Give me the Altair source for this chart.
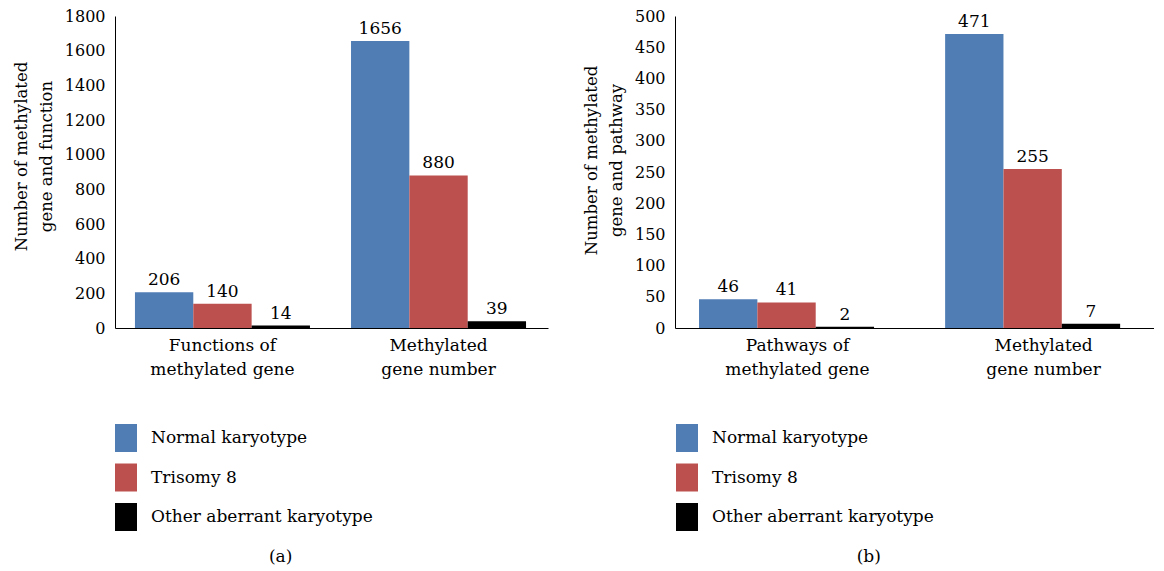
import altair as alt
import pandas as pd

FONT = "DejaVu Serif"

series = ["Normal karyotype", "Trisomy 8", "Other aberrant karyotype"]
colors = ["#4F7DB4", "#BC504E", "#000000"]

cats_a = ["Functions of\nmethylated gene", "Methylated\ngene number"]
normal_a = [206, 1656]
trisomy_a = [140, 880]
other_a = [14, 39]

cats_b = ["Pathways of\nmethylated gene", "Methylated\ngene number"]
normal_b = [46, 471]
trisomy_b = [41, 255]
other_b = [2, 7]

ticks_a = [0, 200, 400, 600, 800, 1000, 1200, 1400, 1600, 1800]
ticks_b = [0, 50, 100, 150, 200, 250, 300, 350, 400, 450, 500]


def make_df(cats, groups):
    rows = []
    for s, vals in zip(series, groups):
        for c, v in zip(cats, vals):
            rows.append({"cat": c, "series": s, "value": v})
    return pd.DataFrame(rows)


def panel(df, cats, ytitle, ticks, width, height, caption, legx, legy, padi, pado, align, ty):
    base = alt.Chart(df).encode(
        x=alt.X("cat:N", sort=cats,
                scale=alt.Scale(paddingInner=padi, paddingOuter=pado, align=align),
                axis=alt.Axis(title=None, labelExpr="split(datum.label, '\\n')",
                              labelAngle=0, ticks=False, domainColor="black",
                              labelFontSize=17, labelFont=FONT, labelColor="black",
                              labelPadding=9, labelLineHeight=24, labelBaseline="top")),
        xOffset=alt.XOffset("series:N", sort=series),
        y=alt.Y("value:Q", scale=alt.Scale(domain=[ticks[0], ticks[-1]], nice=False),
                axis=alt.Axis(values=ticks, format="d", title=ytitle, grid=False, ticks=False,
                              domainColor="black", labelFontSize=16, labelFont=FONT,
                              labelColor="black", labelPadding=10,
                              titleFont=FONT, titleFontSize=16.5, titleFontWeight="normal",
                              titleColor="black", titlePadding=10, titleLineHeight=25,
                              titleY=ty)),
    )
    bars = base.mark_bar().encode(
        color=alt.Color("series:N", sort=series,
                        scale=alt.Scale(domain=series, range=colors),
                        legend=alt.Legend(title=None, orient="none", legendX=legx, legendY=legy,
                                          symbolType="M-0.786,-1H0.786V1H-0.786Z",
                                          symbolSize=784, symbolStrokeWidth=0,
                                          labelFont=FONT, labelFontSize=17, labelColor="black",
                                          labelOffset=11, rowPadding=11.5, labelLimit=400))
    )
    text = base.mark_text(dy=-12, fontSize=17, font=FONT, color="black").encode(text="value:Q")
    return (bars + text).properties(
        width=width, height=height,
        title=alt.TitleParams(caption, orient="bottom", anchor="middle", frame="bounds",
                              font=FONT, fontSize=17, fontWeight="normal", color="black",
                              offset=18)
    )


df_a = make_df(cats_a, [normal_a, trisomy_a, other_a])
df_b = make_df(cats_b, [normal_b, trisomy_b, other_b])

pa = panel(df_a, cats_a, ["Number of methylated", "gene and function"], ticks_a,
           433, 312, "(a)", -3, 408, 0.19, 0.097, 0.476, 140)
pb = panel(df_b, cats_b, ["Number of methylated", "gene and pathway"], ticks_b,
           479, 312, "(b)", -2, 408, 0.2, 0.0732, 0.667, 144)

chart = alt.hconcat(pa, pb, spacing=35).resolve_scale(color="independent").resolve_legend(
    color="independent").configure_view(stroke=None).properties(
    padding={"left": 5, "top": 0, "right": 0, "bottom": 0}
)

chart.save("out.html", embed_options={"renderer": "svg", "actions": False})
